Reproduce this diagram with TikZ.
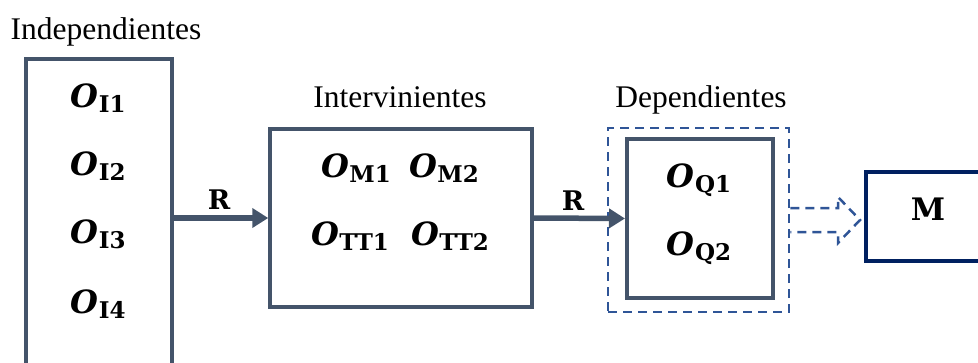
\documentclass[tikz,border=0pt]{standalone}
\usepackage{fontspec}
\setmainfont{Liberation Serif}
\newfontfamily\symserif{DejaVu Serif}
\usetikzlibrary{arrows.meta,calc}

\definecolor{slate}{HTML}{44546A}
\definecolor{dashblue}{HTML}{2F5597}
\definecolor{navy}{HTML}{002060}

% observation symbol: bold italic O with a bold upright index
\newcommand\obsvar[1]{{\symserif\fontsize{32}{32}\selectfont\bfseries\itshape O}\kern0.5pt\raisebox{-5.5pt}{\symserif\fontsize{23}{23}\selectfont\bfseries #1}}

\tikzset{
  heading/.style={anchor=base, inner sep=0pt, font=\fontsize{31.5}{34}\selectfont},
  obs/.style={anchor=base, inner sep=0pt},
  groupbox/.style={draw=slate, line width=#1, fill=none, inner sep=0pt},
  flow/.style={draw=slate, line width=5.5pt, -{Triangle[length=16pt,width=19pt]}},
  rlabel/.style={anchor=base, inner sep=0pt, font=\symserif\fontsize{27}{27}\selectfont\bfseries},
  dashframe/.style={draw=dashblue, line width=2.5pt, dash pattern=on 9pt off 6pt},
  blockarrow/.style={draw=dashblue, line width=2.5pt, dash pattern=on 9pt off 6pt, line join=miter},
}

\begin{document}
\begin{tikzpicture}[x=1pt,y=-1pt]
\useasboundingbox (0,0) rectangle (978,362);
\clip (0,0) rectangle (978,362);

% boxes
\node[groupbox=4pt, minimum width=146pt, minimum height=340pt] (indep) at (99,229) {};
\node[groupbox=3.5pt, minimum width=262pt, minimum height=178pt] (interv) at (401,218) {};
\node[dashframe, minimum width=181pt, minimum height=184pt] (outer) at (698.5,220) {};
\node[groupbox=4pt, minimum width=146pt, minimum height=159pt] (dep) at (700,218.5) {};
\node[draw=navy, line width=4pt, minimum width=144pt, minimum height=89pt, inner sep=0pt] (mbox) at (938,216.5) {};

% headings
\node[heading] (hindep) at (106,39) {Independientes};
\node[heading] (hinterv) at (400,107) {Intervinientes};
\node[heading] (hdep) at (701,107) {Dependientes};

% observations
\node[obs] (oi1) at (98,107) {\obsvar{I1}};
\node[obs] (oi2) at (98,175) {\obsvar{I2}};
\node[obs] (oi3) at (98,243) {\obsvar{I3}};
\node[obs] (oi4) at (98,313) {\obsvar{I4}};
\node[obs] (om1) at (356,177) {\obsvar{M1}};
\node[obs] (om2) at (444,177) {\obsvar{M2}};
\node[obs] (ot1) at (350,245) {\obsvar{TT1}};
\node[obs] (ot2) at (450,245) {\obsvar{TT2}};
\node[obs] (oq1) at (699,187) {\obsvar{Q1}};
\node[obs] (oq2) at (699,255) {\obsvar{Q2}};

% relations
\draw[flow] (indep.east |- interv.west) -- (interv.west);
\draw[flow] (interv.east) -- (dep.west);
\node[rlabel] (r1) at (219,209) {R};
\node[rlabel] (r2) at (573,210) {R};

% dashed block arrow towards M
\coordinate (tip) at ([xshift=-4pt]mbox.west |- outer.east);
\draw[blockarrow] ([yshift=12pt]outer.east)
  -- ([xshift=-22pt,yshift=12pt]tip)
  -- ([xshift=-22pt,yshift=23pt]tip)
  -- (tip)
  -- ([xshift=-22pt,yshift=-23pt]tip)
  -- ([xshift=-22pt,yshift=-12pt]tip)
  -- ([yshift=-12pt]outer.east);

\node[anchor=base, inner sep=0pt, font=\symserif\fontsize{31}{31}\selectfont\bfseries] (mlabel) at (928,220) {M};
\end{tikzpicture}
\end{document}
